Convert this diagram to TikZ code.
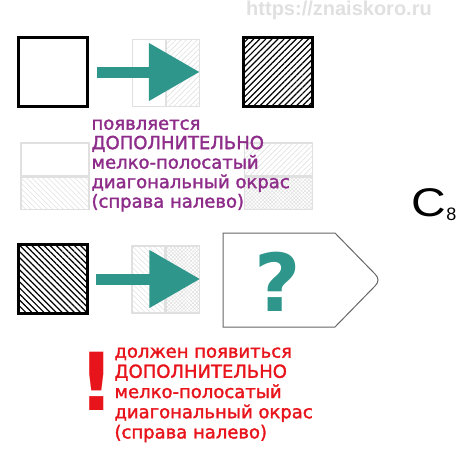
\documentclass[tikz,border=0pt]{standalone}
\usepackage{fontspec}
\setmainfont{DejaVu Sans}
\newfontfamily\markfont{Liberation Sans}
\newfontfamily\notefont[FakeBold=1.8]{DejaVu Sans}
\usepackage{graphicx}
\usepackage{tikz}
\usetikzlibrary{positioning, arrows.meta, patterns.meta}

\definecolor{arrowteal}{HTML}{2E968A}
\definecolor{notepurple}{HTML}{8E2C8A}
\definecolor{notered}{HTML}{E8141B}
\definecolor{faintgray}{HTML}{E0E0E0}

\begin{document}
\begin{tikzpicture}[x=1pt, y=-1pt,
    bigarrow/.style={-{Triangle[length=51pt, width=55pt]}, line width=11pt, arrowteal},
    solidsq/.style={draw=black, line width=2.8pt, minimum size=69pt, inner sep=0pt},
    halfv/.style={draw=faintgray, line width=1.5pt, minimum width=33pt, minimum height=67pt, inner sep=0pt},
    halfh/.style={draw=faintgray, line width=1.5pt, minimum width=68pt, minimum height=32.5pt, inner sep=0pt},
    finene/.style={pattern={Lines[angle=45, distance=4.3pt, line width=1.2pt]}},
    finenw/.style={pattern={Lines[angle=-45, distance=4.3pt, line width=1.2pt]}},
    faintne/.style={pattern={Lines[angle=45, distance=3.8pt, line width=0.6pt]}, pattern color=faintgray},
    faintnw/.style={pattern={Lines[angle=-45, distance=3.8pt, line width=0.6pt]}, pattern color=faintgray},
    faintx/.style={pattern={Hatch[angle=45, distance=2.6pt, line width=0.5pt]}, pattern color=faintgray},
    note/.style={anchor=north west, align=left, font=\notefont\fontsize{18}{19.5}\selectfont}
]
    % frame
    \useasboundingbox (0,0) rectangle (467,463);

    % watermark
    \node[font=\markfont\bfseries\fontsize{20}{20}\selectfont, text=faintgray] (site) at (339,10) {https://znaiskoro.ru};

    % Top row
    \node[solidsq] (start) at (53,72) {};
    \node[halfv] (gainL) at (149,73) {};
    \node[halfv, faintne] (gainR) at (183,73) {};
    \draw[bigarrow] ([xshift=8pt]start.east) -- (start -| gainR.east);
    \node[solidsq, finene] (result) at (278,72) {};

    % Middle row
    \node[halfh] (ruleLT) at (55,159) {};
    \node[halfh, faintnw] (ruleLB) at (55,193) {};
    \node[halfh, faintne] (ruleRT) at (278.5,159) {};
    \node[halfh, faintx] (ruleRB) at (278.5,193) {};
    \node[note, text=notepurple] (hint) at (88,116) {появляется\\ДОПОЛНИТЕЛЬНО\\мелко-полосатый\\диагональный окрас\\(справа налево)};
    \node[font=\markfont\fontsize{40}{40}\selectfont] (task) at (434,205) {\scalebox{1.2}[1]{C}\raisebox{-4pt}{\fontsize{18}{18}\selectfont 8}};

    % Bottom row
    \node[solidsq, finenw] (start2) at (53,279) {};
    \node[halfv, faintnw] (mixL) at (148.5,279.5) {};
    \node[halfv, faintx] (mixR) at (183,279.5) {};
    \draw[bigarrow] ([xshift=8pt]start2.east) -- (start2 -| mixR.east);
    \draw[gray!80!black, line width=1pt] (223,233) -- (335,233) -- (375,274)
        .. controls (379,278) and (379,282) .. (375,286) -- (335,327) -- (223,327) -- cycle;
    \node[font=\bfseries\fontsize{80}{80}\selectfont, text=arrowteal] (ask) at (278,282) {?};

    % Warning
    \node[font=\bfseries\fontsize{80}{80}\selectfont, text=notered] (bang) at (97,381) {!};
    \node[note, text=notered, font=\notefont\fontsize{18}{20.2}\selectfont] (must) at (111,344) {должен появиться\\ДОПОЛНИТЕЛЬНО\\мелко-полосатый\\диагональный окрас\\(справа налево)};
\end{tikzpicture}
\end{document}
